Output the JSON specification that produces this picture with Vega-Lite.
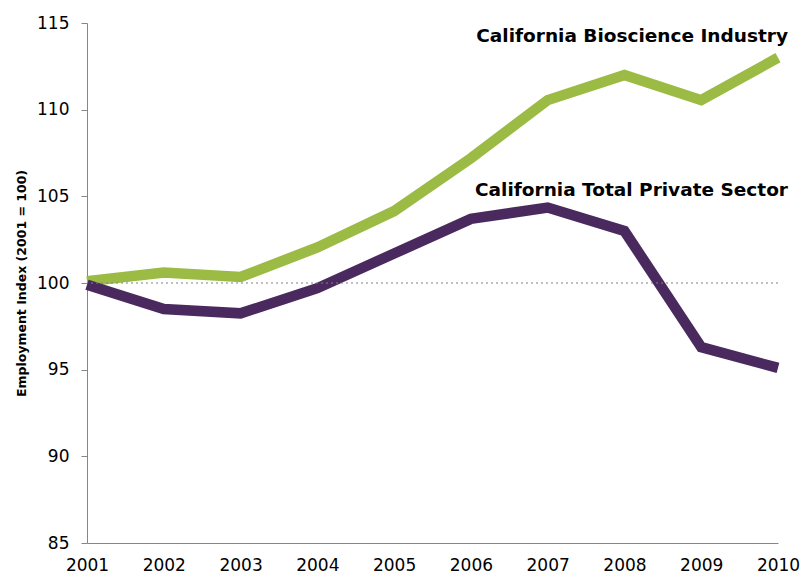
{
  "$schema": "https://vega.github.io/schema/vega-lite/v6.json",
  "width": 691,
  "height": 520,
  "autosize": {"type": "none"},
  "padding": {"left": 87, "top": 23, "right": 24, "bottom": 34},
  "background": "white",
  "config": {
    "view": {"stroke": null},
    "font": "DejaVu Sans"
  },
  "datasets": {
    "series": [
      {"year": 2001, "value": 100.1, "series": "Bioscience"},
      {"year": 2002, "value": 100.6, "series": "Bioscience"},
      {"year": 2003, "value": 100.35, "series": "Bioscience"},
      {"year": 2004, "value": 102.05, "series": "Bioscience"},
      {"year": 2005, "value": 104.15, "series": "Bioscience"},
      {"year": 2006, "value": 107.2, "series": "Bioscience"},
      {"year": 2007, "value": 110.55, "series": "Bioscience"},
      {"year": 2008, "value": 112.0, "series": "Bioscience"},
      {"year": 2009, "value": 110.55, "series": "Bioscience"},
      {"year": 2010, "value": 113.0, "series": "Bioscience"},
      {"year": 2001, "value": 99.9, "series": "Total"},
      {"year": 2002, "value": 98.5, "series": "Total"},
      {"year": 2003, "value": 98.25, "series": "Total"},
      {"year": 2004, "value": 99.7, "series": "Total"},
      {"year": 2005, "value": 101.7, "series": "Total"},
      {"year": 2006, "value": 103.7, "series": "Total"},
      {"year": 2007, "value": 104.35, "series": "Total"},
      {"year": 2008, "value": 103.0, "series": "Total"},
      {"year": 2009, "value": 96.3, "series": "Total"},
      {"year": 2010, "value": 95.1, "series": "Total"}
    ],
    "labels": [
      {"year": 2010, "value": 114.25, "label": "California Bioscience Industry"},
      {"year": 2010, "value": 105.35, "label": "California Total Private Sector"}
    ],
    "ref": [{"value": 100}]
  },
  "layer": [
    {
      "data": {"name": "series"},
      "mark": {"type": "line", "strokeWidth": 10.5, "strokeJoin": "miter", "strokeCap": "butt"},
      "encoding": {
        "x": {
          "field": "year", "type": "quantitative",
          "scale": {"domain": [2001, 2010], "nice": false, "zero": false},
          "axis": {
            "title": null, "format": "d", "values": [2001,2002,2003,2004,2005,2006,2007,2008,2009,2010],
            "ticks": false, "grid": false, "domainColor": "#868686", "domainWidth": 1,
            "labelFontSize": 17, "labelColor": "#000000", "labelPadding": 14, "labelFont": "DejaVu Sans",
            "labelOverlap": false, "labelFlush": false
          }
        },
        "y": {
          "field": "value", "type": "quantitative",
          "scale": {"domain": [85, 115], "nice": false, "zero": false},
          "axis": {
            "title": "Employment Index (2001 = 100)", "titleFontSize": 12.5, "titleFontWeight": "bold",
            "titleColor": "#000000", "titlePadding": 8, "titleFont": "DejaVu Sans",
            "values": [85, 90, 95, 100, 105, 110, 115],
            "grid": false, "tickColor": "#868686", "tickSize": 6, "domainColor": "#868686",
            "labelFontSize": 17, "labelColor": "#000000", "labelPadding": 12, "labelFont": "DejaVu Sans"
          }
        },
        "color": {
          "field": "series", "type": "nominal",
          "scale": {"domain": ["Bioscience", "Total"], "range": ["#9bbb45", "#4a2a5e"]},
          "legend": null
        },
        "order": {"field": "year"}
      }
    },
    {
      "data": {"name": "ref"},
      "mark": {"type": "rule", "color": "#808080", "strokeDash": [2, 3], "strokeWidth": 1.2},
      "encoding": {"y": {"field": "value", "type": "quantitative"}}
    },
    {
      "data": {"name": "labels"},
      "mark": {"type": "text", "align": "right", "baseline": "middle", "dx": 10, "fontSize": 18.5, "fontWeight": "bold", "font": "DejaVu Sans", "color": "#000000"},
      "encoding": {
        "x": {"field": "year", "type": "quantitative"},
        "y": {"field": "value", "type": "quantitative"},
        "text": {"field": "label"}
      }
    }
  ]
}
